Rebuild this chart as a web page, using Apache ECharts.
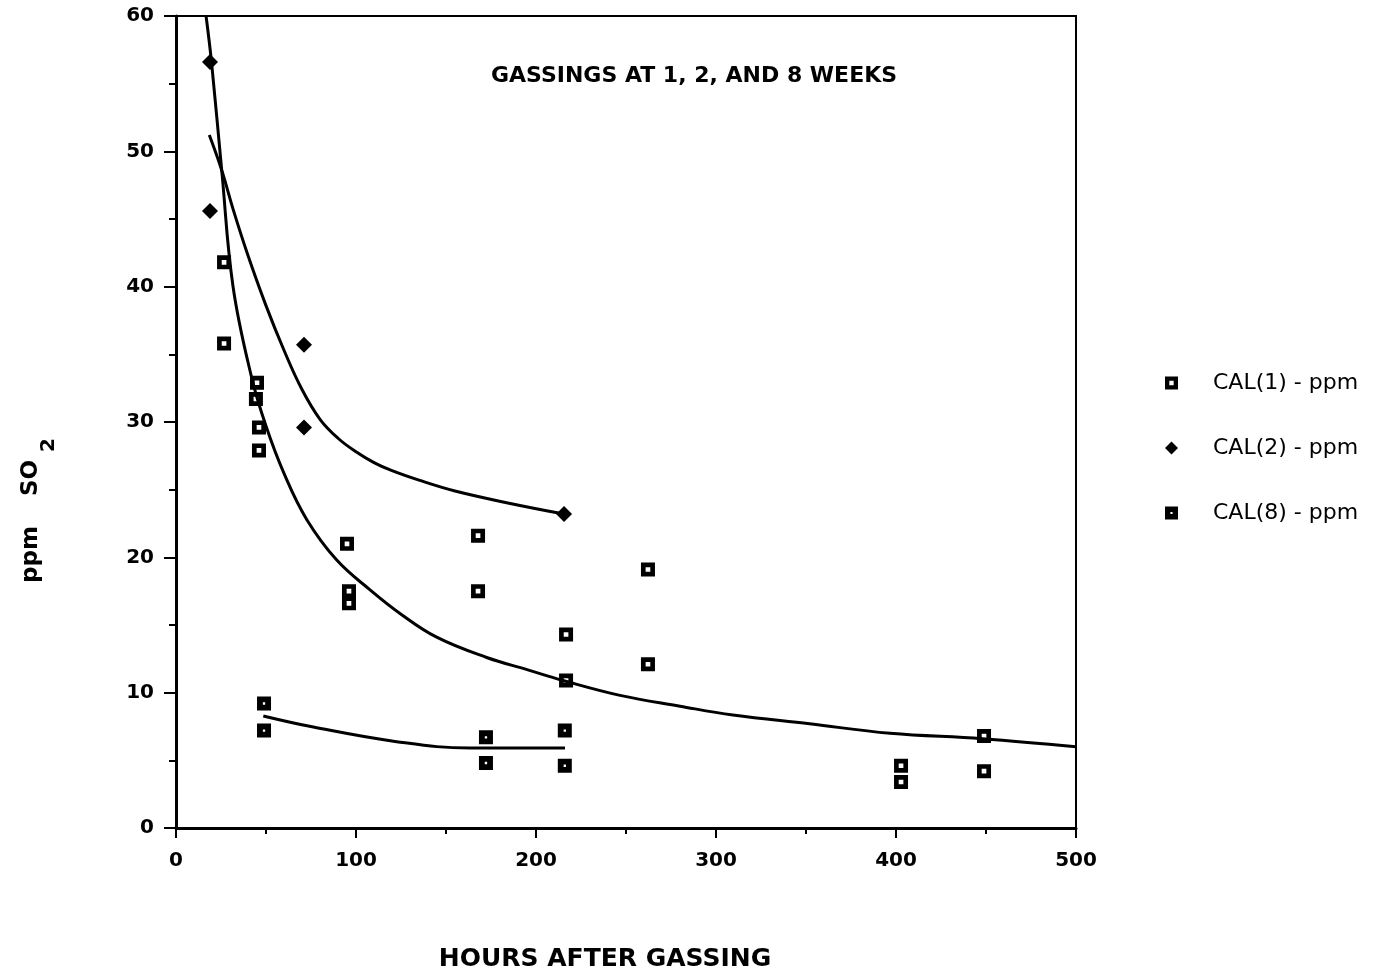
<!DOCTYPE html>
<html>
<head>
<meta charset="utf-8">
<script src="https://cdn.jsdelivr.net/npm/echarts@6/dist/echarts.min.js"></script>
<style>html,body{margin:0;padding:0;background:#fff}#c{width:1382px;height:975px}</style>
</head>
<body>
<div id="c"></div>
<script>
// Data
var cal1 = [[26.7,41.8],[26.7,35.8],[45,32.9],[44.4,31.7],[46.1,29.6],[46.1,27.9],[95,21.0],[96.1,17.5],[96.1,16.6],[167.8,21.6],[167.8,17.5],[216.7,14.3],[216.7,10.9],[262.2,19.1],[262.2,12.1],[402.8,4.6],[402.8,3.4],[448.9,6.8],[448.9,4.2]];
var cal2 = [[18.9,56.6],[18.9,45.6],[71.1,35.7],[71.1,29.6],[215.6,23.2]];
var cal8 = [[48.9,9.2],[48.9,7.2],[172.2,6.7],[172.2,4.8],[216,7.2],[216,4.6]];
var fit1 = [[16.7,60],[19.8,56.5],[25.4,48.6],[31.7,40.0],[42,33.3],[50,29.7],[60,26.2],[72.6,22.8],[89.3,19.8],[107.8,17.6],[125,15.8],[144.8,14.1],[172.6,12.6],[195,11.7],[215,10.9],[246.7,9.8],[280,9.0],[309.4,8.35],[352,7.7],[396.7,7.0],[448,6.6],[500,6.0]];
var fit2 = [[18.5,51.2],[25.4,48.6],[32,45.6],[40,42.3],[50,38.6],[60,35.3],[70,32.4],[80,30.2],[90,28.8],[100,27.8],[110,27.0],[120,26.4],[135,25.7],[155,24.9],[185,24.0],[215.6,23.2]];
var fit8 = [[48.5,8.28],[76.3,7.46],[122.6,6.38],[163.3,5.91],[216.1,5.91]];
var seriesNames = ['CAL(1) - ppm','CAL(2) - ppm','CAL(8) - ppm'];
var titleText = 'GASSINGS AT 1, 2, AND 8 WEEKS';
var xName = 'HOURS AFTER GASSING';

var FONT = '"DejaVu Sans", "Liberation Sans", sans-serif';
var sq1 = 'path://M0,0L12,0L12,12L0,12Z M4,4L4,8L8,8L8,4Z';
var sq8 = 'path://M0,0L12,0L12,12L0,12Z M5,5L5,7L7,7L7,5Z';

var chart = echarts.init(document.getElementById('c'), null, {renderer:'canvas'});
function fitLine(d){
  return {type:'line', data:d, smooth:0.4, symbol:'none', silent:true,
    lineStyle:{color:'#000', width:3}, z:2, legendHoverLink:false};
}
var mark = {color:'#000', opacity:1};
var nameFont = {fontFamily:FONT, fontSize:23, fontWeight:'bold', color:'#000'};
chart.setOption({
  animation:false,
  backgroundColor:'#fff',
  title:{text:titleText, left:689, top:60, textAlign:'center',
    textStyle:{fontFamily:FONT, fontSize:22, fontWeight:'bold', color:'#000'}},
  grid:{left:176, right:306, top:16, bottom:147, outerBoundsMode:'none', containLabel:false,
    show:true, borderColor:'#000', borderWidth:2, backgroundColor:'transparent'},
  legend:{orient:'vertical', left:1160, top:367, itemGap:43, itemWidth:13, itemHeight:13,
    itemStyle:{opacity:1},
    data:[{name:seriesNames[0], icon:sq1},{name:seriesNames[1], icon:'diamond'},{name:seriesNames[2], icon:sq8}],
    textStyle:{fontFamily:FONT, fontSize:22, color:'#000', padding:[0,0,0,30]}},
  xAxis:{type:'value', min:0, max:500, interval:100,
    name:xName, nameLocation:'middle', nameGap:119,
    nameTextStyle:{fontFamily:FONT, fontSize:25, fontWeight:'bold', color:'#000', padding:[0,42,0,0]},
    axisLine:{lineStyle:{color:'#000', width:3}},
    axisTick:{length:10, lineStyle:{color:'#000', width:2}},
    minorTick:{show:true, splitNumber:2, length:6, lineStyle:{color:'#000', width:2}},
    splitLine:{show:false},
    axisLabel:{fontFamily:FONT, fontSize:20, fontWeight:'bold', color:'#000', margin:23}},
  yAxis:{type:'value', min:0, max:60, interval:10,
    name:'{a|ppm}{b|SO}{s|2}', nameLocation:'middle', nameGap:117, nameRotate:90,
    nameTextStyle:{fontFamily:FONT, fontSize:23, fontWeight:'bold', color:'#000',
      rich:{a:nameFont,
            b:Object.assign({padding:[0,0,0,30]}, nameFont),
            s:{fontFamily:FONT, fontSize:20, fontWeight:'bold', color:'#000', padding:[36,177,0,8]}}},
    axisLine:{lineStyle:{color:'#000', width:3}},
    axisTick:{length:12, lineStyle:{color:'#000', width:2}},
    minorTick:{show:true, splitNumber:2, length:7, lineStyle:{color:'#000', width:2}},
    splitLine:{show:false},
    axisLabel:{fontFamily:FONT, fontSize:20, fontWeight:'bold', color:'#000', margin:22}},
  series:[
    fitLine(fit1), fitLine(fit2), fitLine(fit8),
    {name:seriesNames[0], type:'scatter', data:cal1, symbol:sq1, symbolSize:14, itemStyle:mark, z:3},
    {name:seriesNames[1], type:'scatter', data:cal2, symbol:'diamond', symbolSize:[16,16], itemStyle:mark, z:3},
    {name:seriesNames[2], type:'scatter', data:cal8, symbol:sq8, symbolSize:14, itemStyle:mark, z:3}
  ]
});
</script>
</body>
</html>
